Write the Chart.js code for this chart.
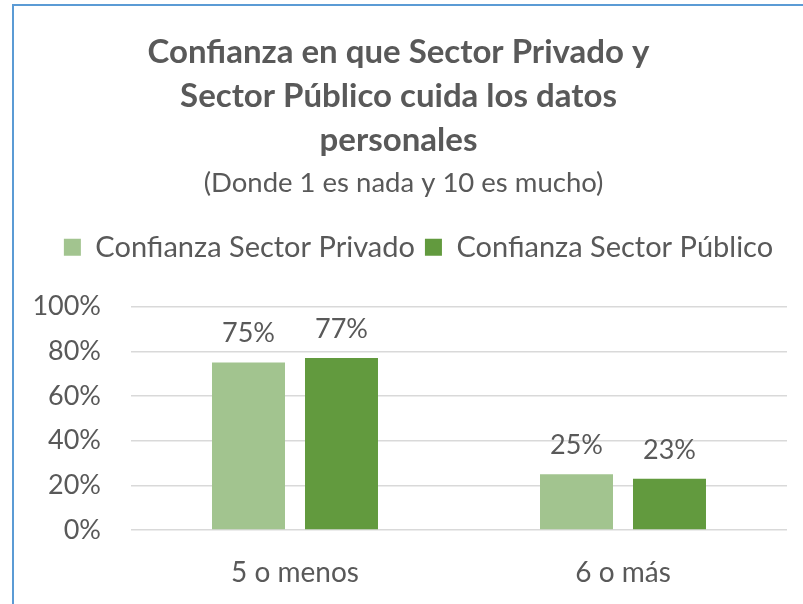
<!DOCTYPE html>
<html>
<head>
<meta charset="utf-8">
<script src="https://cdn.jsdelivr.net/npm/chart.js@4.4.1/dist/chart.umd.min.js"></script>
<style>
    html, body { margin: 0; padding: 0; background: #fff; }
    #wrap { position: relative; width: 803px; height: 604px; overflow: hidden; }
    #frame { position: absolute; left: 12px; top: 4px; width: 900px; height: 700px;
             border-left: 2px solid #5B9BD5; border-top: 2px solid #5B9BD5; box-sizing: border-box; }
    canvas { position: absolute; left: 0; top: 0; }
</style>
</head>
<body>
<div id="wrap">
    <canvas id="aChart" width="803" height="604"></canvas>
    <div id="frame"></div>
</div>
<script>
var categories = ["5 o menos", "6 o más"];
var privado = [75, 25];
var publico = [77, 23];
var yTicks = [0, 20, 40, 60, 80, 100];

var textColor = "#595959";
var fontName = "Lato, 'Open Sans', sans-serif";

// labels over the bars, like Excel's data labels
var barLabels = {
    id: 'barLabels',
    afterDatasetsDraw(chart) {
        var ctx = chart.ctx;
        ctx.save();
        ctx.fillStyle = textColor;
        ctx.font = "27px " + fontName;
        ctx.textAlign = "center";
        ctx.textBaseline = "alphabetic";
        chart.data.datasets.forEach((ds, i) => {
            chart.getDatasetMeta(i).data.forEach((bar, j) => {
                ctx.fillText(ds.data[j] + "%", bar.x, bar.y - 20);
            });
        });
        ctx.restore();
    }
};

// extra room between legend and plot, and nudge title / legend sideways
var legendGap = {
    id: 'legendGap',
    beforeInit(chart) {
        var fit = chart.legend.fit;
        chart.legend.fit = function () {
            fit.bind(chart.legend)();
            this.height += 35;
        };
    },
    afterLayout(chart) {
        chart.legend.left += 15;
        chart.legend.right += 15;
        chart.titleBlock.left -= 5;
        chart.titleBlock.right -= 5;
    }
};

new Chart(document.getElementById('aChart'), {
    type: 'bar',
    data: {
        labels: categories,
        datasets: [{
                data: privado,
                label: "Confianza Sector Privado",
                backgroundColor: "#A2C48F",
                borderColor: "#A2C48F"
            },
            {
                data: publico,
                label: "Confianza Sector Público",
                backgroundColor: "#629A3E",
                borderColor: "#629A3E"
            }
        ]
    },
    options: {
        responsive: false,
        animation: false,
        categoryPercentage: 0.567,
        barPercentage: 0.785,
        layout: {
            padding: { left: 20, right: 16, bottom: 0, top: 30 }
        },
        plugins: {
            title: {
                display: true,
                text: ["Confianza en que Sector Privado y", "Sector Público cuida los datos", "personales"],
                color: textColor,
                font: { family: fontName, size: 33, weight: 'bold', lineHeight: 1.34 },
                padding: { top: 0, bottom: 4 }
            },
            subtitle: {
                display: true,
                text: "(Donde 1 es nada y 10 es mucho)",
                color: textColor,
                font: { family: fontName, size: 27.5 },
                padding: { top: 0, bottom: 23 }
            },
            legend: {
                display: true,
                position: 'top',
                labels: {
                    color: textColor,
                    font: { family: fontName, size: 29 },
                    boxWidth: 17,
                    boxHeight: 17,
                    padding: 10
                }
            },
            tooltip: { enabled: false }
        },
        scales: {
            x: {
                grid: { display: false },
                border: { display: false },
                afterFit(scale) {
                    scale.height = 74;
                },
                ticks: {
                    color: textColor,
                    font: { family: fontName, size: 28 },
                    padding: 18
                }
            },
            y: {
                min: 0,
                max: 100,
                afterBuildTicks(scale) {
                    scale.ticks = yTicks.map(v => ({ value: v }));
                },
                afterFit(scale) {
                    scale.width = 111;
                },
                grid: { color: "#D9D9D9", lineWidth: 1.5, drawTicks: false },
                border: { display: false },
                ticks: {
                    color: textColor,
                    font: { family: fontName, size: 27 },
                    padding: 30,
                    callback: v => v + "%"
                }
            }
        }
    },
    plugins: [barLabels, legendGap]
});
</script>
</body>
</html>
